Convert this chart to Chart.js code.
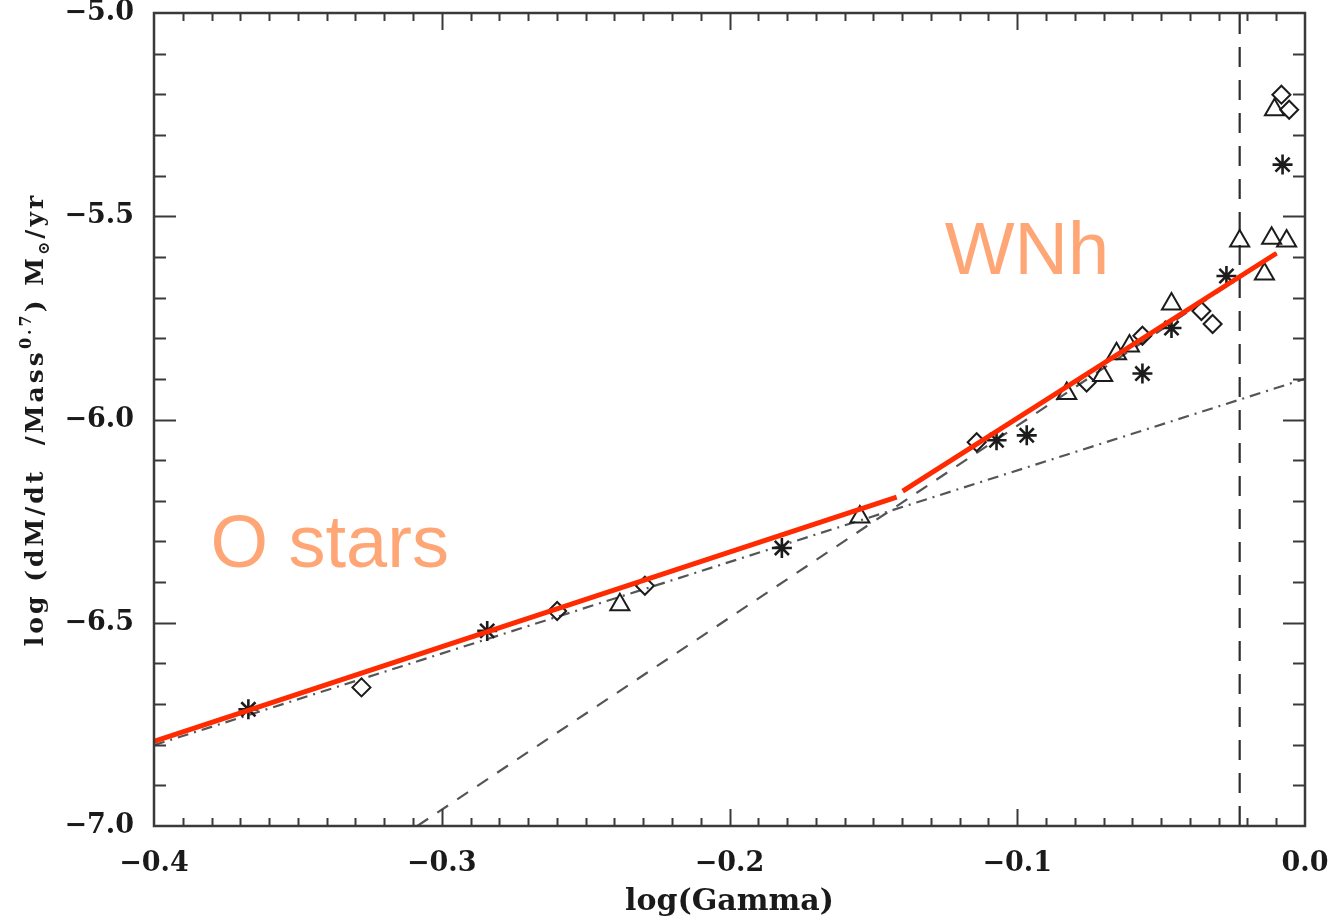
<!DOCTYPE html>
<html>
<head>
<meta charset="utf-8">
<script src="https://cdn.jsdelivr.net/npm/chart.js@4.4.1/dist/chart.umd.min.js"></script>
<style>
  html, body { margin: 0; padding: 0; background: #fff; }
  #wrap { width: 1333px; height: 920px; position: relative; }
</style>
</head>
<body>
<div id="wrap"><canvas id="gammaChart"></canvas></div>
<script>
// model points, [log Gamma, log mass-loss rate]
const asteriskPts = [
    [-0.3672, -6.713], [-0.2842, -6.520], [-0.1818, -6.316], [-0.1072, -6.051],
    [-0.0967, -6.039], [-0.0565, -5.887], [-0.0464, -5.775], [-0.0273, -5.647],
    [-0.0078, -5.373]
];
const diamondPts = [
    [-0.3279, -6.659], [-0.2599, -6.471], [-0.2294, -6.409], [-0.1141, -6.056],
    [-0.0759, -5.909], [-0.0565, -5.794], [-0.0360, -5.733], [-0.0321, -5.765],
    [-0.0082, -5.201], [-0.0055, -5.238]
];
const trianglePts = [
    [-0.2381, -6.456], [-0.1547, -6.240], [-0.0828, -5.936], [-0.0703, -5.892],
    [-0.0655, -5.838], [-0.0610, -5.819], [-0.0464, -5.716], [-0.0227, -5.561],
    [-0.0141, -5.642], [-0.0116, -5.554], [-0.0064, -5.561], [-0.0106, -5.238]
];

// fitted relations and guide lines
const oStarFit = [[-0.4, -6.792], [-0.1419, -6.191]];
const wnhFit = [[-0.1398, -6.176], [-0.0099, -5.591]];
const shallowFit = [[-0.4, -6.801], [0.0, -5.900]];
const steepFit = [[-0.3085, -7.0], [-0.0099, -5.59]];
const kinkLine = [[-0.0227, -7.0], [-0.0227, -5.0]];

// axes
const xRange = [-0.4, 0.0];
const yRange = [-7.0, -5.0];
const xMajorStep = 0.1, xMinorStep = 0.01;
const yMajorStep = 0.5, yMinorStep = 0.1;

const toXY = pts => pts.map(([x, y]) => ({ x, y }));
const fmtTick = v => (Math.abs(v) < 1e-9 ? '0.0' : v.toFixed(1).replace('-', '\u2212'));

function lineSet(pts, color, width, dash) {
    return {
        data: toXY(pts),
        showLine: true,
        borderColor: color,
        borderWidth: width,
        borderDash: dash || [],
        pointRadius: 0,
        pointHoverRadius: 0,
        fill: false
    };
}

function markerSet(pts, style, radius, width) {
    return {
        data: toXY(pts),
        showLine: false,
        pointStyle: style,
        pointRadius: radius,
        pointHoverRadius: radius,
        pointBorderColor: '#1c1c1c',
        pointBackgroundColor: 'rgba(0,0,0,0)',
        pointBorderWidth: width
    };
}

// box frame with inward ticks on all four sides, titles and region labels
const framePlugin = {
    id: 'frame',
    afterDraw(chart) {
        const { ctx, chartArea: a, scales } = chart;
        const xs = scales.x, ys = scales.y;
        ctx.save();
        ctx.strokeStyle = '#3a3a3a';
        ctx.lineWidth = 2.5;
        ctx.strokeRect(a.left, a.top, a.right - a.left, a.bottom - a.top);

        ctx.lineWidth = 2;
        ctx.beginPath();
        const nx = Math.round((xRange[1] - xRange[0]) / xMinorStep);
        for (let i = 1; i < nx; i++) {
            const v = xRange[0] + i * xMinorStep;
            const len = i % Math.round(xMajorStep / xMinorStep) === 0 ? 17 : 8;
            const px = Math.round(xs.getPixelForValue(v)) + 0.5;
            ctx.moveTo(px, a.bottom); ctx.lineTo(px, a.bottom - len);
            ctx.moveTo(px, a.top); ctx.lineTo(px, a.top + len);
        }
        const ny = Math.round((yRange[1] - yRange[0]) / yMinorStep);
        for (let i = 1; i < ny; i++) {
            const v = yRange[0] + i * yMinorStep;
            const len = i % Math.round(yMajorStep / yMinorStep) === 0 ? 22 : 12;
            const py = Math.round(ys.getPixelForValue(v)) + 0.5;
            ctx.moveTo(a.left, py); ctx.lineTo(a.left + len, py);
            ctx.moveTo(a.right, py); ctx.lineTo(a.right - len, py);
        }
        ctx.stroke();

        // region labels
        ctx.fillStyle = '#ffa676';
        ctx.font = '74px "Liberation Sans", Arial, sans-serif';
        ctx.textBaseline = 'alphabetic';
        ctx.textAlign = 'left';
        ctx.fillText('O stars', xs.getPixelForValue(-0.3804), ys.getPixelForValue(-6.363));
        ctx.fillText('WNh', xs.getPixelForValue(-0.1252), ys.getPixelForValue(-5.642));

        // x title
        ctx.fillStyle = '#1a1a1a';
        ctx.font = 'bold 30px "DejaVu Serif", serif';
        ctx.textAlign = 'center';
        ctx.fillText('log(Gamma)', (a.left + a.right) / 2, 910);

        // y title with superscript exponent and solar symbol
        const parts = [
            { t: 'log (dM/dt  /Mass', size: 25, dy: 0 },
            { t: '0.7', size: 16, dy: -12 },
            { t: ') M', size: 25, dy: 0 },
            { t: '\u2299', size: 16, dy: 6 },
            { t: '/yr', size: 25, dy: 0 }
        ];
        ctx.letterSpacing = '3px';
        let total = 0;
        parts.forEach(p => {
            ctx.font = 'bold ' + p.size + 'px "DejaVu Serif", serif';
            p.w = ctx.measureText(p.t).width;
            total += p.w;
        });
        ctx.translate(43, (a.top + a.bottom) / 2);
        ctx.rotate(-Math.PI / 2);
        ctx.textAlign = 'left';
        let cx = -total / 2;
        parts.forEach(p => {
            ctx.font = 'bold ' + p.size + 'px "DejaVu Serif", serif';
            ctx.fillText(p.t, cx, p.dy);
            cx += p.w;
        });
        ctx.restore();
    }
};

const tickFont = { family: '"DejaVu Serif", serif', weight: 'bold', size: 27 };

new Chart(document.getElementById('gammaChart'), {
    type: 'scatter',
    data: {
        datasets: [
            lineSet(oStarFit, '#ff2a00', 5),
            lineSet(wnhFit, '#ff2a00', 5),
            markerSet(asteriskPts, 'star', 10, 2.6),
            markerSet(diamondPts, 'rectRot', 9, 2),
            markerSet(trianglePts, 'triangle', 11, 2),
            lineSet(shallowFit, '#555', 2.2, [11, 6, 2, 6]),
            lineSet(steepFit, '#555', 2.2, [13, 11]),
            lineSet(kinkLine, '#2e2e2e', 2.2, [20, 13])
        ]
    },
    options: {
        responsive: true,
        maintainAspectRatio: false,
        animation: false,
        layout: { padding: { top: 10, right: 28, left: 0, bottom: 0 } },
        plugins: {
            legend: { display: false },
            tooltip: { enabled: false }
        },
        scales: {
            x: {
                type: 'linear',
                min: xRange[0],
                max: xRange[1],
                grid: { display: false },
                border: { display: false },
                ticks: {
                    stepSize: xMajorStep,
                    font: tickFont,
                    color: '#1a1a1a',
                    padding: 14,
                    maxRotation: 0,
                    callback: v => fmtTick(v)
                },
                afterFit(s) { s.height = 94; s.paddingLeft = 0; s.paddingRight = 0; }
            },
            y: {
                type: 'linear',
                min: yRange[0],
                max: yRange[1],
                grid: { display: false },
                border: { display: false },
                ticks: {
                    stepSize: yMajorStep,
                    font: tickFont,
                    color: '#1a1a1a',
                    padding: 12,
                    callback: v => fmtTick(v)
                },
                afterFit(s) { s.width = 154; s.paddingTop = 0; s.paddingBottom = 0; }
            }
        }
    },
    plugins: [framePlugin]
});
</script>
</body>
</html>
